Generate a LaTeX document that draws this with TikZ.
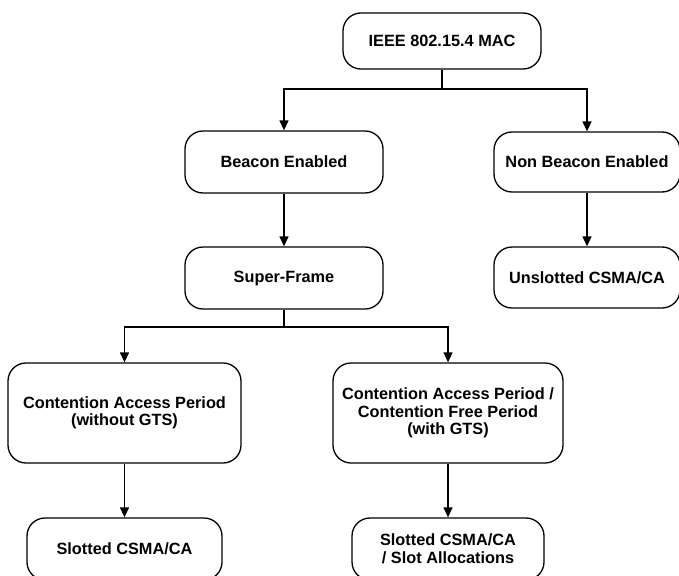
\documentclass[tikz,border=0pt]{standalone}
\usepackage{fontspec}
\setmainfont{Liberation Sans}
\usetikzlibrary{arrows.meta}
\begin{document}
\begin{tikzpicture}[x=1pt,y=-1pt,
  box/.style={draw=black, line width=1.3pt, rounded corners=18pt, align=center,
    font=\fontsize{16.3}{17.5}\selectfont\bfseries, inner sep=0pt},
  conn/.style={line width=1.3pt},
  arr/.style={conn, -{Triangle[length=10pt,width=9pt]}}]
\clip (0,0) rectangle (679,575);
\fill[white] (0,0) rectangle (679,575);
\node[box, minimum width=198pt, minimum height=56pt] (mac) at (442,41) {IEEE 802.15.4 MAC};
\node[box, minimum width=198pt, minimum height=62pt] (be) at (284,162) {Beacon Enabled};
\node[box, minimum width=186pt, minimum height=60pt] (nbe) at (587,162) {Non Beacon Enabled};
\node[box, minimum width=186pt, minimum height=61pt] (uns) at (587,277.5) {Unslotted CSMA/CA};
\node[box, minimum width=198pt, minimum height=62pt] (sf) at (284,278) {Super-Frame};
\node[box, minimum width=233pt, minimum height=100pt] (cap) at (124.5,413) {Contention Access Period\\(without GTS)};
\node[box, minimum width=230pt, minimum height=100pt] (cfp) at (448,413) {Contention Access Period /\\Contention Free Period\\(with GTS)};
\node[box, minimum width=195pt, minimum height=62pt] (sl) at (124.5,549) {Slotted CSMA/CA};
\node[box, minimum width=192pt, minimum height=62pt] (sl2) at (448,549) {Slotted CSMA/CA\\/ Slot Allocations};
\coordinate (j1) at (442,89);
\coordinate (j2) at (284,327);
\draw[conn] (mac.south) -- (j1);
\draw[arr] (j1) -| (be.north);
\draw[arr] (j1) -| (nbe.north);
\draw[arr] (nbe.south) -- (uns.north);
\draw[arr] (be.south) -- (sf.north);
\draw[conn] (sf.south) -- (j2);
\draw[arr] (j2) -| (cap.north);
\draw[arr] (j2) -| (cfp.north);
\draw[arr] (cap.south) -- (sl.north);
\draw[arr] (cfp.south) -- (sl2.north);
\end{tikzpicture}
\end{document}
